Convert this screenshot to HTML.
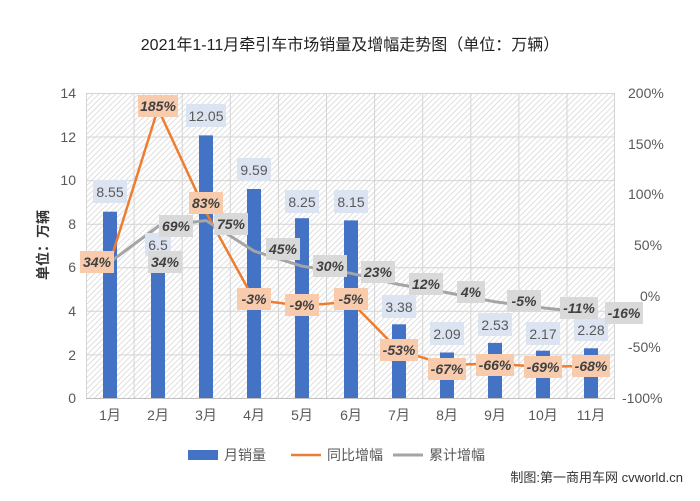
<!DOCTYPE html>
<html><head><meta charset="utf-8"><style>
body{margin:0;background:#fff;}
svg text{font-family:"Liberation Sans","Noto Sans CJK SC",sans-serif;}
</style></head><body>
<svg width="700" height="496" viewBox="0 0 700 496" xmlns="http://www.w3.org/2000/svg">
<defs>
<pattern id="h" width="4" height="4" patternUnits="userSpaceOnUse" patternTransform="rotate(45)">
<rect width="4" height="4" fill="#fff"/><line x1="0" y1="0" x2="0" y2="4" stroke="#cfcfcf" stroke-width="1.3"/>
</pattern>
</defs>
<rect x="0" y="0" width="700" height="496" fill="#fff"/>
<text x="350" y="50" text-anchor="middle" font-size="16" fill="#222">2021年1-11月牵引车市场销量及增幅走势图（单位：万辆）</text>
<rect x="86" y="93" width="529" height="305" fill="url(#h)"/>
<g stroke="#d4d4d4" stroke-width="1">
<line x1="86" x2="615" y1="93.5" y2="93.5"/><line x1="86" x2="615" y1="137" y2="137"/><line x1="86" x2="615" y1="180.6" y2="180.6"/><line x1="86" x2="615" y1="224.2" y2="224.2"/><line x1="86" x2="615" y1="267.7" y2="267.7"/><line x1="86" x2="615" y1="311.3" y2="311.3"/><line x1="86" x2="615" y1="354.9" y2="354.9"/>
<line x1="86.5" x2="86.5" y1="93" y2="398"/><line x1="134.1" x2="134.1" y1="93" y2="398"/><line x1="182.2" x2="182.2" y1="93" y2="398"/><line x1="230.3" x2="230.3" y1="93" y2="398"/><line x1="278.4" x2="278.4" y1="93" y2="398"/><line x1="326.5" x2="326.5" y1="93" y2="398"/><line x1="374.6" x2="374.6" y1="93" y2="398"/><line x1="422.7" x2="422.7" y1="93" y2="398"/><line x1="470.8" x2="470.8" y1="93" y2="398"/><line x1="518.9" x2="518.9" y1="93" y2="398"/><line x1="567" x2="567" y1="93" y2="398"/><line x1="614.5" x2="614.5" y1="93" y2="398"/>
</g>
<line x1="86" x2="615" y1="398.5" y2="398.5" stroke="#bfbfbf"/>
<g font-size="14" fill="#595959" text-anchor="end">
<text x="76" y="98">14</text><text x="76" y="142">12</text><text x="76" y="185">10</text><text x="76" y="229">8</text><text x="76" y="272">6</text><text x="76" y="316">4</text><text x="76" y="360">2</text><text x="76" y="403">0</text>
</g>
<g font-size="14" fill="#595959" text-anchor="start">
<text x="628" y="98">200%</text><text x="628" y="149">150%</text><text x="628" y="199">100%</text><text x="634" y="250">50%</text><text x="640" y="301">0%</text><text x="628" y="352">-50%</text><text x="622" y="403">-100%</text>
</g>
<text transform="translate(48,245) rotate(-90)" text-anchor="middle" font-size="14" font-weight="bold" fill="#333">单位：万辆</text>
<g fill="#4472c4">
<rect x="103" y="211.7" width="14" height="186.3"/><rect x="151" y="256.4" width="14" height="141.6"/><rect x="199" y="135.4" width="14" height="262.6"/><rect x="247" y="189" width="14" height="209"/><rect x="295" y="218.2" width="14" height="179.8"/><rect x="344" y="220.4" width="14" height="177.6"/><rect x="392" y="324.3" width="14" height="73.7"/><rect x="440" y="352.5" width="14" height="45.5"/><rect x="488" y="342.9" width="14" height="55.1"/><rect x="536" y="350.7" width="14" height="47.3"/><rect x="584" y="348.3" width="14" height="49.7"/>
</g>
<polyline fill="none" stroke="#ed7d31" stroke-width="2.5" points="110,262.1 158,108.6 206,212.3 254,299.7 302,305.8 351,301.8 399,350.6 447,364.8 495,363.8 543,366.9 591,365.8"/>
<polyline fill="none" stroke="#a5a5a5" stroke-width="3" points="110,262.1 158,226.5 206,220.5 254,251 302,266.2 351,273.3 399,284.5 447,292.6 495,301.8 543,307.9 591,313"/>
<g font-size="14" fill="#595959" text-anchor="middle">
<g fill="#dce4f2"><rect x="93" y="180" width="34" height="23"/><rect x="145" y="233" width="26" height="23"/><rect x="186" y="104" width="40" height="23"/><rect x="237" y="158" width="34" height="23"/><rect x="285" y="190" width="34" height="23"/><rect x="334" y="190" width="34" height="23"/><rect x="382" y="295" width="34" height="23"/><rect x="430" y="322" width="34" height="23"/><rect x="478" y="313" width="34" height="23"/><rect x="526" y="322" width="34" height="23"/><rect x="574" y="318" width="34" height="23"/></g>
<text x="110" y="197">8.55</text><text x="158" y="250">6.5</text><text x="206" y="121">12.05</text><text x="254" y="175">9.59</text><text x="302" y="207">8.25</text><text x="351" y="207">8.15</text><text x="399" y="312">3.38</text><text x="447" y="339">2.09</text><text x="495" y="330">2.53</text><text x="543" y="339">2.17</text><text x="591" y="335">2.28</text>
</g>
<g font-size="14" font-weight="bold" font-style="italic" fill="#404040" text-anchor="middle">
<g fill="#d9d9d9"><rect x="148" y="251" width="34" height="22"/><rect x="159" y="215" width="34" height="22"/><rect x="214" y="213" width="34" height="22"/><rect x="266" y="238" width="34" height="22"/><rect x="313" y="255" width="34" height="22"/><rect x="361" y="261" width="34" height="22"/><rect x="409" y="273" width="34" height="22"/><rect x="457" y="281" width="28" height="22"/><rect x="507" y="290" width="34" height="22"/><rect x="560" y="297" width="38" height="22"/><rect x="605" y="302" width="38" height="22"/></g>
<text x="165" y="267">34%</text><text x="176" y="231">69%</text><text x="231" y="229">75%</text><text x="283" y="254">45%</text><text x="330" y="271">30%</text><text x="378" y="277">23%</text><text x="426" y="289">12%</text><text x="471" y="297">4%</text><text x="524" y="306">-5%</text><text x="579" y="313">-11%</text><text x="624" y="318">-16%</text>
<g fill="#f8cbad"><rect x="80" y="251" width="34" height="22"/><rect x="138" y="95" width="40" height="22"/><rect x="189" y="192" width="34" height="22"/><rect x="237" y="288" width="34" height="22"/><rect x="285" y="294" width="34" height="22"/><rect x="334" y="288" width="34" height="22"/><rect x="380" y="339" width="38" height="22"/><rect x="428" y="358" width="38" height="22"/><rect x="476" y="354" width="38" height="22"/><rect x="524" y="356" width="38" height="22"/><rect x="572" y="355" width="38" height="22"/></g>
<text x="97" y="267">34%</text><text x="158" y="111">185%</text><text x="206" y="208">83%</text><text x="254" y="304">-3%</text><text x="302" y="310">-9%</text><text x="351" y="304">-5%</text><text x="399" y="355">-53%</text><text x="447" y="374">-67%</text><text x="495" y="370">-66%</text><text x="543" y="372">-69%</text><text x="591" y="371">-68%</text>
</g>
<g font-size="14" fill="#595959" text-anchor="middle">
<text x="110" y="420">1月</text><text x="158" y="420">2月</text><text x="206" y="420">3月</text><text x="254" y="420">4月</text><text x="302" y="420">5月</text><text x="351" y="420">6月</text><text x="399" y="420">7月</text><text x="447" y="420">8月</text><text x="495" y="420">9月</text><text x="543" y="420">10月</text><text x="591" y="420">11月</text>
</g>
<g font-size="14" fill="#595959">
<rect x="188" y="450" width="30" height="10" fill="#4472c4"/><text x="224" y="460">月销量</text>
<line x1="291" x2="321" y1="455" y2="455" stroke="#ed7d31" stroke-width="2.5"/><text x="327" y="460">同比增幅</text>
<line x1="393" x2="423" y1="455" y2="455" stroke="#a5a5a5" stroke-width="3"/><text x="429" y="460">累计增幅</text>
</g>
<text x="683" y="482" text-anchor="end" font-size="13" fill="#333">制图:第一商用车网 cvworld.cn</text>
</svg>
</body></html>
